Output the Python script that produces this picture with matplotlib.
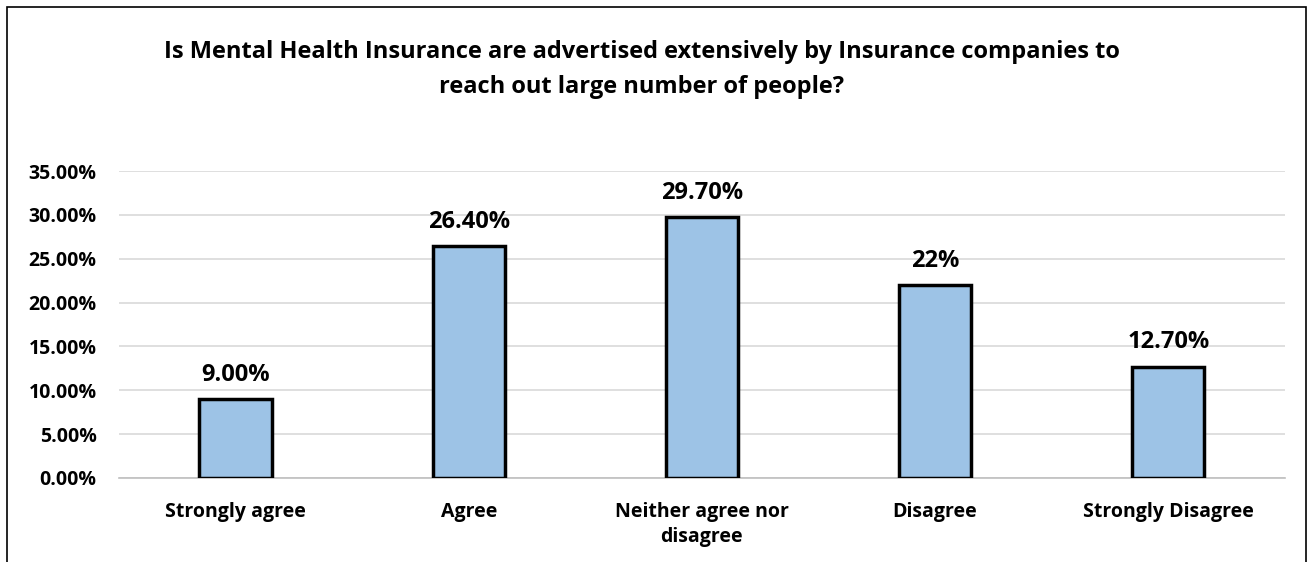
import matplotlib.pyplot as plt
from matplotlib.patches import Rectangle
from matplotlib.ticker import FuncFormatter

# survey responses
categories = ["Strongly agree", "Agree", "Neither agree nor\ndisagree", "Disagree", "Strongly Disagree"]
shares = [0.09, 0.264, 0.297, 0.22, 0.127]
labels = ["9.00%", "26.40%", "29.70%", "22%", "12.70%"]
yticks = [0, 0.05, 0.10, 0.15, 0.20, 0.25, 0.30, 0.35]

plt.rcParams['font.family'] = ['Open Sans', 'DejaVu Sans']
plt.rcParams['font.weight'] = 'bold'

fig = plt.figure(figsize=(13.13, 5.62), dpi=100)
ax = fig.add_axes([0.0906, 0.1495, 0.888, 0.5462])

x = range(len(categories))
ax.bar(x, shares, width=0.31, color='#9DC3E6', edgecolor='black', linewidth=2.5, zorder=3)

for i, (v, lab) in enumerate(zip(shares, labels)):
    ax.annotate(lab, (i, v), xytext=(0, 9), textcoords='offset points',
                ha='center', va='bottom', fontsize=17, fontweight='bold')

ax.set_xlim(-0.5, len(categories) - 0.5)
ax.set_ylim(0, 0.35)
ax.set_yticks(yticks)
ax.yaxis.set_major_formatter(FuncFormatter(lambda v, p: f"{v*100:.2f}%"))
ax.set_xticks(list(x))
ax.set_xticklabels(categories, fontsize=14, fontweight='bold', linespacing=1.35)
ax.tick_params(axis='both', length=0)
ax.tick_params(axis='y', labelsize=14, pad=16)
ax.tick_params(axis='x', pad=17)
for lbl in ax.get_yticklabels():
    lbl.set_fontweight('bold')

ax.grid(axis='y', color='#D9D9D9', linewidth=1.2, zorder=0)
for side in ['top', 'right', 'left']:
    ax.spines[side].set_visible(False)
ax.spines['bottom'].set_color('#BFBFBF')
ax.spines['bottom'].set_linewidth(1.2)

fig.text(0.489, 0.876, "Is Mental Health Insurance are advertised extensively by Insurance companies to\nreach out large number of people?",
         ha='center', va='center', fontsize=17, fontweight='bold', linespacing=1.6)

# chart frame
fig.patches.append(Rectangle((0.0053, -0.01), 0.989, 0.998, transform=fig.transFigure,
                             fill=False, edgecolor='black', linewidth=1.2))

fig.savefig('out.png', dpi=100)
